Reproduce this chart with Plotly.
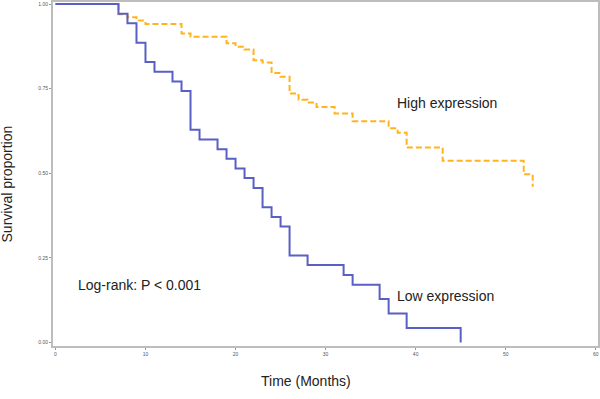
import plotly.graph_objects as go

# Kaplan-Meier step data
low_time = [0, 7, 8, 9, 10, 11, 13, 14, 15, 16, 18, 19, 20, 21, 22, 23, 24, 25, 26, 28, 32, 33, 36, 37, 39, 45]
low_surv = [1.0, 0.971, 0.943, 0.886, 0.829, 0.800, 0.771, 0.743, 0.629, 0.600, 0.571, 0.543, 0.514, 0.486,
            0.457, 0.400, 0.371, 0.343, 0.257, 0.229, 0.200, 0.171, 0.129, 0.086, 0.043, 0.0]

high_time = [0, 7, 8, 9, 10, 14, 15, 19, 20, 21, 22, 23, 24, 25, 26, 27, 28, 29, 31, 33, 37, 38, 39, 43, 52, 53]
high_surv = [1.0, 0.970, 0.961, 0.951, 0.941, 0.913, 0.903, 0.884, 0.874, 0.866, 0.834, 0.827, 0.796, 0.785,
             0.736, 0.717, 0.709, 0.696, 0.677, 0.654, 0.633, 0.620, 0.576, 0.537, 0.497, 0.460]

x_ticks = [0, 10, 20, 30, 40, 50, 60]
y_ticks = [0.0, 0.25, 0.5, 0.75, 1.0]
y_tick_labels = ["0.00", "0.25", "0.50", "0.75", "1.00"]

fig = go.Figure()
fig.add_trace(go.Scatter(x=high_time, y=high_surv, mode="lines", line_shape="hv",
                         line=dict(color="#ffb31f", width=2, dash="6px,3px"), name="High expression"))
fig.add_trace(go.Scatter(x=low_time, y=low_surv, mode="lines", line_shape="hv",
                         line=dict(color="#5a5fc4", width=2), name="Low expression"))

txt = dict(family="Liberation Sans, Arial, sans-serif", size=14, color="#222222")
fig.add_annotation(x=37.7, y=0.707, text="High expression", showarrow=False, xanchor="left", font=txt)
fig.add_annotation(x=37.7, y=0.137, text="Low expression", showarrow=False, xanchor="left", font=txt)
fig.add_annotation(x=2.26, y=0.169, text="Log-rank: P < 0.001", showarrow=False, xanchor="left", font=txt)

# axis titles placed as paper annotations
fig.add_annotation(xref="paper", yref="paper", x=0.465, y=-0.1017, text="Time (Months)", showarrow=False,
                   xanchor="center", yanchor="middle", font=txt)
fig.add_annotation(xref="paper", yref="paper", x=-0.0826, y=0.4724, text="Survival proportion", showarrow=False,
                   xanchor="center", yanchor="middle", textangle=-90, font=txt)

axis_common = dict(showline=True, linecolor="#bdbdbd", linewidth=2, mirror=True, showgrid=False,
                   zeroline=False, ticks="outside", ticklen=2, tickcolor="#999999", tickwidth=1,
                   automargin=False,
                   tickfont=dict(family="Liberation Sans, Arial, sans-serif", size=5, color="#555555"))

fig.update_layout(
    width=600, height=399,
    margin=dict(l=53, r=2, t=2, b=53),
    paper_bgcolor="white", plot_bgcolor="white",
    showlegend=False,
    xaxis=dict(range=[-0.27, 60.25], tickvals=x_ticks, ticktext=[str(v) for v in x_ticks], **axis_common),
    yaxis=dict(range=[-0.01, 1.006], tickvals=y_ticks, ticktext=y_tick_labels, **axis_common),
)

fig.write_html("out.html", config={"displayModeBar": False})

# remove the default page margin so the figure sits at the window's top-left corner
with open("out.html", "r", encoding="utf-8") as f:
    html = f.read()
html = html.replace("<body>", '<body style="margin:0;padding:0;overflow:hidden">', 1)
with open("out.html", "w", encoding="utf-8") as f:
    f.write(html)
